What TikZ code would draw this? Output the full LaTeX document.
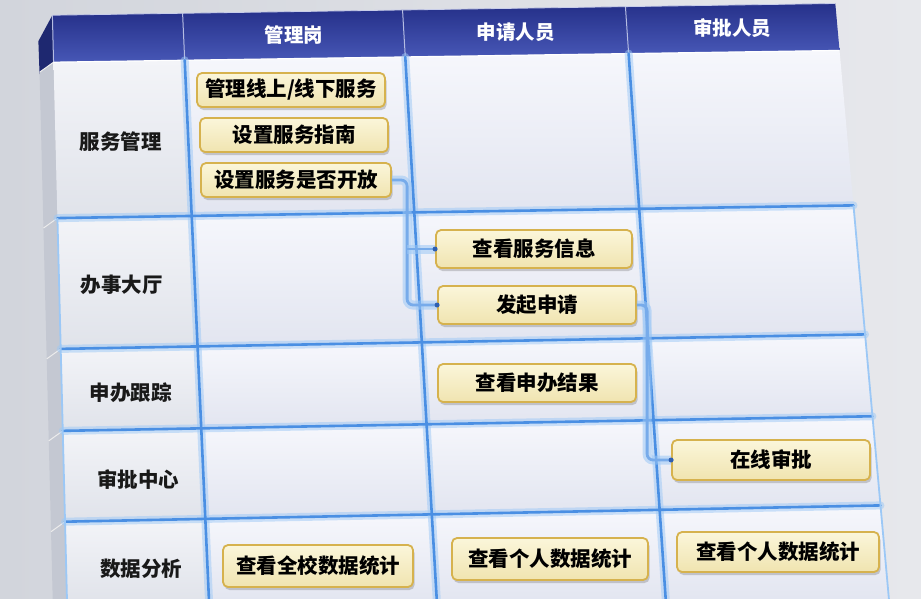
\documentclass[tikz,border=0pt]{standalone}
\usepackage{fontspec}
\newfontfamily\cjk{Noto Sans CJK SC}
\usetikzlibrary{calc,shadows}
\definecolor{bgL}{HTML}{D2D5DC}
\definecolor{bgR}{HTML}{E7E8EC}
\definecolor{hdTop}{HTML}{26318A}
\definecolor{hdBot}{HTML}{4757B6}
\definecolor{hdSide}{HTML}{1E2870}
\definecolor{cellTop}{HTML}{F6F7FC}
\definecolor{cellBot}{HTML}{E2E5F0}
\definecolor{lblTop}{HTML}{F3F4F8}
\definecolor{lblBot}{HTML}{E0E3EA}
\definecolor{sideGray}{HTML}{C4C8D2}
\definecolor{gridCore}{HTML}{4A8FE3}
\definecolor{gridGlow}{HTML}{9CC8F6}
\definecolor{boxTop}{HTML}{FBF6DA}
\definecolor{boxBot}{HTML}{F0E4B0}
\definecolor{boxLine}{HTML}{D6B24E}
\definecolor{dotBlue}{HTML}{2F5FB0}
\begin{document}
\begin{tikzpicture}[x=1pt,y=-1pt,
  box/.style={draw=boxLine, line width=1.8pt, rounded corners=5pt,
    top color=boxTop, bottom color=boxBot,
    font=\cjk\bfseries\fontsize{20.5}{20.5}\selectfont, text=black,
    drop shadow={shadow xshift=1.5pt, shadow yshift=-3pt, opacity=.3, fill=black!60}},
  hdtext/.style={font=\cjk\bfseries\fontsize{19.5}{19.5}\selectfont, text=white},
  rowtext/.style={font=\cjk\bfseries\fontsize{20.5}{20.5}\selectfont, text=black!90},
  gridglow/.style={draw=gridGlow, line width=8pt, opacity=.5, line cap=round},
  gridcore/.style={draw=gridCore, line width=2.6pt, line cap=round},
  conn/.style={draw=gridCore!75!white, line width=2.8pt, rounded corners=6pt,
    preaction={draw=gridGlow, line width=9pt, opacity=.55}},
  cell/.style={top color=cellTop, bottom color=cellBot},
  lblcell/.style={top color=lblTop, bottom color=lblBot},
  hdcell/.style={top color=hdTop, bottom color=hdBot}
]
\useasboundingbox (0,0) rectangle (921,598);
\clip (0,0) rectangle (921,598);
\shade[left color=bgL, right color=bgR] (0,0) rectangle (921,598);

% grid line endpoints
\foreach \i/\a/\b in {0/52/67,1/182/209,2/402/436.8,3/625/665.8,4/835/889}{
  \coordinate (vt\i) at (\a,0); \coordinate (vb\i) at (\b,600);}
\foreach \j/\c/\d in {0/16/2.2,1/63/49.2,2/219/204.3,3/350/333.4,4/432/415.4,5/523/504.6,6/604/602}{
  \coordinate (hl\j) at (0,\c); \coordinate (hr\j) at (921,\d);}
\foreach \i in {0,...,4}{\foreach \j in {0,...,6}{
  \coordinate (g-\i-\j) at (intersection cs: first line={(vt\i)--(vb\i)}, second line={(hl\j)--(hr\j)});}}

% left side faces
\fill[hdSide] (g-0-0) -- (g-0-1) -- ($(g-0-1)+(-14,12)$) -- ($(g-0-0)+(-14,26)$) -- cycle;
\foreach \j [evaluate=\j as \jj using int(\j+1)] in {1,...,5}{
  \fill[sideGray] (g-0-\j) -- (g-0-\jj) -- ($(g-0-\jj)+(-14,10)$) -- ($(g-0-\j)+(-14,10)$) -- cycle;
  \draw[white!85!gray, line width=1pt] (g-0-\j) -- ($(g-0-\j)+(-14,10)$);}

% header cells
\foreach \i [evaluate=\i as \ii using int(\i+1)] in {0,...,3}{
  \shade[hdcell] (g-\i-0) -- (g-\ii-0) -- (g-\ii-1) -- (g-\i-1) -- cycle;
  \draw[white!60!hdBot, line width=1pt] (g-\i-0) -- (g-\i-1);}
\draw[white!70!hdBot, line width=0.8pt] (g-0-0) -- (g-4-0);

% body cells
\foreach \j [evaluate=\j as \jj using int(\j+1)] in {1,...,5}{
  \shade[lblcell] (g-0-\j) -- (g-1-\j) -- (g-1-\jj) -- (g-0-\jj) -- cycle;
  \foreach \i [evaluate=\i as \ii using int(\i+1)] in {1,2,3}{
    \shade[cell] (g-\i-\j) -- (g-\ii-\j) -- (g-\ii-\jj) -- (g-\i-\jj) -- cycle;}}
\draw[white, line width=1.2pt] (g-0-1) -- (g-4-1);

% glowing grid lines
\foreach \i in {1,2,3}{\draw[gridglow] (g-\i-1) -- (g-\i-6);}
\foreach \j in {2,...,5}{\draw[gridglow] (g-0-\j) -- (g-4-\j);}
\foreach \i in {1,2,3}{\draw[gridcore] (g-\i-1) -- (g-\i-6);}
\foreach \j in {2,...,5}{\draw[gridcore] (g-0-\j) -- (g-4-\j);}
\draw[gridGlow, line width=1.8pt] (g-0-2) -- (g-0-6);
\draw[gridGlow, line width=1.8pt] (g-4-2) -- (g-4-6);

% header texts
\node[hdtext] (h1) at ($(g-1-0)!0.5!(g-2-1)$) {管理岗};
\node[hdtext] (h2) at ($(g-2-0)!0.5!(g-3-1)$) {申请人员};
\node[hdtext] (h3) at ($(g-3-0)!0.5!(g-4-1)$) {审批人员};

% row labels
\node[rowtext] (r1) at ($(g-0-1)!0.5!(g-1-2)+(-2,3)$) {服务管理};
\node[rowtext] (r2) at ($(g-0-2)!0.5!(g-1-3)+(-6,3)$) {办事大厅};
\node[rowtext] (r3) at ($(g-0-3)!0.5!(g-1-4)+(0,4)$) {申办跟踪};
\node[rowtext] (r4) at ($(g-0-4)!0.5!(g-1-5)+(4,5)$) {审批中心};
\node[rowtext] (r5) at ($(g-0-5)!0.5!(g-1-6)+(4,6)$) {数据分析};

% task boxes
\node[box, minimum width=188pt, minimum height=34pt] (b1) at (291,90) {管理线上/线下服务};
\node[box, minimum width=188pt, minimum height=34pt] (b2) at (294,135) {设置服务指南};
\node[box, minimum width=190pt, minimum height=34pt] (b3) at (296,180) {设置服务是否开放};
\node[box, minimum width=196pt, minimum height=38pt] (b4) at (534,249) {查看服务信息};
\node[box, minimum width=198pt, minimum height=38pt] (b5) at (537,305) {发起申请};
\node[box, minimum width=198pt, minimum height=38pt] (b6) at (537,383) {查看申办结果};
\node[box, minimum width=198pt, minimum height=40pt] (b7) at (771,460) {在线审批};
\node[box, minimum width=190pt, minimum height=42pt] (b8) at (318,566) {查看全校数据统计};
\node[box, minimum width=196pt, minimum height=42pt] (b9) at (550,559) {查看个人数据统计};
\node[box, minimum width=202pt, minimum height=40pt] (b10) at (778,552) {查看个人数据统计};

% connectors
\coordinate (s1) at ([xshift=-30pt]b5.west);
\coordinate (s2) at ([xshift=-24pt]b7.west);
\draw[conn] (b3.east) -| (s1) -- (b5.west);
\draw[conn] (s1 |- b4.west) -- (b4.west);
\draw[conn] (b5.east) -| (s2) -- (b7.west);
\foreach \n in {b4.west,b5.west,b7.west}{\fill[dotBlue] (\n) circle (2.5);}
\end{tikzpicture}
\end{document}
